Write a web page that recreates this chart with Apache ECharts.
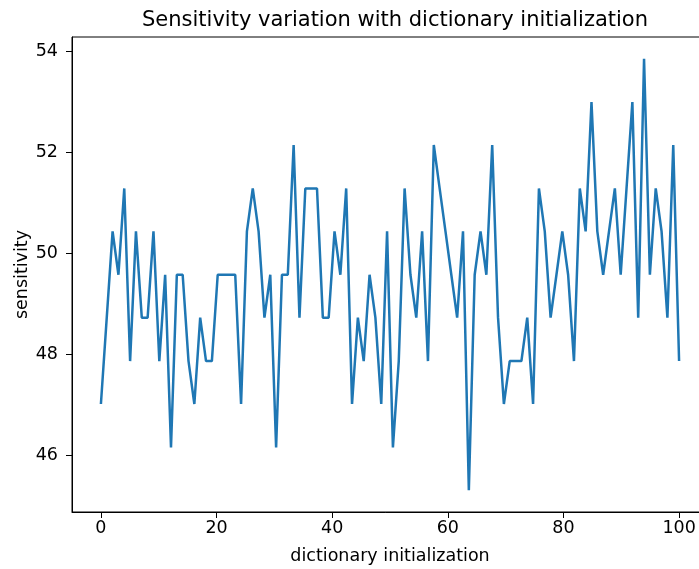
<!DOCTYPE html>
<html>
<head>
<meta charset="utf-8">
<script src="https://cdn.jsdelivr.net/npm/echarts@6/dist/echarts.min.js"></script>
<style>
  html, body { margin: 0; padding: 0; background: #fff; }
  #grafico { width: 699px; height: 569px; }
</style>
</head>
<body>
<div id="grafico"></div>
<script>
// sensitivity per run (100 runs spread over 0..100)
const sensibilidad = [
    47.01, 48.72, 50.43, 49.57, 51.28, 47.86, 50.43, 48.72, 48.72, 50.43,
    47.86, 49.57, 46.15, 49.57, 49.57, 47.86, 47.01, 48.72, 47.86, 47.86,
    49.57, 49.57, 49.57, 49.57, 47.01, 50.43, 51.28, 50.43, 48.72, 49.57,
    46.15, 49.57, 49.57, 52.14, 48.72, 51.28, 51.28, 51.28, 48.72, 48.72,
    50.43, 49.57, 51.28, 47.01, 48.72, 47.86, 49.57, 48.72, 47.01, 50.43,
    46.15, 47.86, 51.28, 49.57, 48.72, 50.43, 47.86, 52.14, 51.28, 50.43,
    49.57, 48.72, 50.43, 45.30, 49.57, 50.43, 49.57, 52.14, 48.72, 47.01,
    47.86, 47.86, 47.86, 48.72, 47.01, 51.28, 50.43, 48.72, 49.57, 50.43,
    49.57, 47.86, 51.28, 50.43, 52.99, 50.43, 49.57, 50.43, 51.28, 49.57,
    51.28, 52.99, 48.72, 53.85, 49.57, 51.28, 50.43, 48.72, 52.14, 47.86
];
const ticksX = [0, 20, 40, 60, 80, 100];
const ticksY = [46, 48, 50, 52, 54];

const fuente = 'DejaVu Sans';

function dibujar() {
    let graf = echarts.init(document.getElementById('grafico'));
    let n = sensibilidad.length;
    let datos = sensibilidad.map((v, i) => [i * 100 / (n - 1), v]);

    let option = {
        animation: false,
        title: {
            text: 'Sensitivity variation with dictionary initialization',
            left: 390,
            top: 5,
            textAlign: 'center',
            textStyle: { fontFamily: fuente, fontSize: 21, fontWeight: 'normal', color: '#000' }
        },
        grid: {
            left: 72, top: 37, width: 636, height: 475,
            outerBoundsMode: 'none',
            containLabel: false,
            show: true, borderColor: '#000', borderWidth: 1
        },
        xAxis: {
            type: 'value',
            min: -5, max: 105,
            name: 'dictionary initialization',
            nameLocation: 'middle',
            nameGap: 35,
            nameMoveOverlap: false,
            nameTextStyle: { fontFamily: fuente, fontSize: 17.5, color: '#000' },
            splitLine: { show: false },
            axisLine: { onZero: false, lineStyle: { color: '#000', width: 1 } },
            axisTick: { customValues: ticksX, length: 6, lineStyle: { color: '#000' } },
            axisLabel: { customValues: ticksX, margin: 7, fontFamily: fuente, fontSize: 17.5, color: '#000' }
        },
        yAxis: {
            type: 'value',
            min: 44.87, max: 54.28,
            name: 'sensitivity',
            nameLocation: 'middle',
            nameGap: 41,
            nameMoveOverlap: false,
            nameTextStyle: { fontFamily: fuente, fontSize: 17.5, color: '#000' },
            splitLine: { show: false },
            axisLine: { show: true, onZero: false, lineStyle: { color: '#000', width: 1 } },
            axisTick: { show: true, customValues: ticksY, length: 6, lineStyle: { color: '#000' } },
            axisLabel: { customValues: ticksY, margin: 14, fontFamily: fuente, fontSize: 17.5, color: '#000' }
        },
        series: [
            {
                name: 'sensitivity',
                type: 'line',
                data: datos,
                showSymbol: false,
                lineStyle: { color: '#1f77b4', width: 2.5 }
            }
        ]
    };

    graf.setOption(option);
}

dibujar();
</script>
</body>
</html>
